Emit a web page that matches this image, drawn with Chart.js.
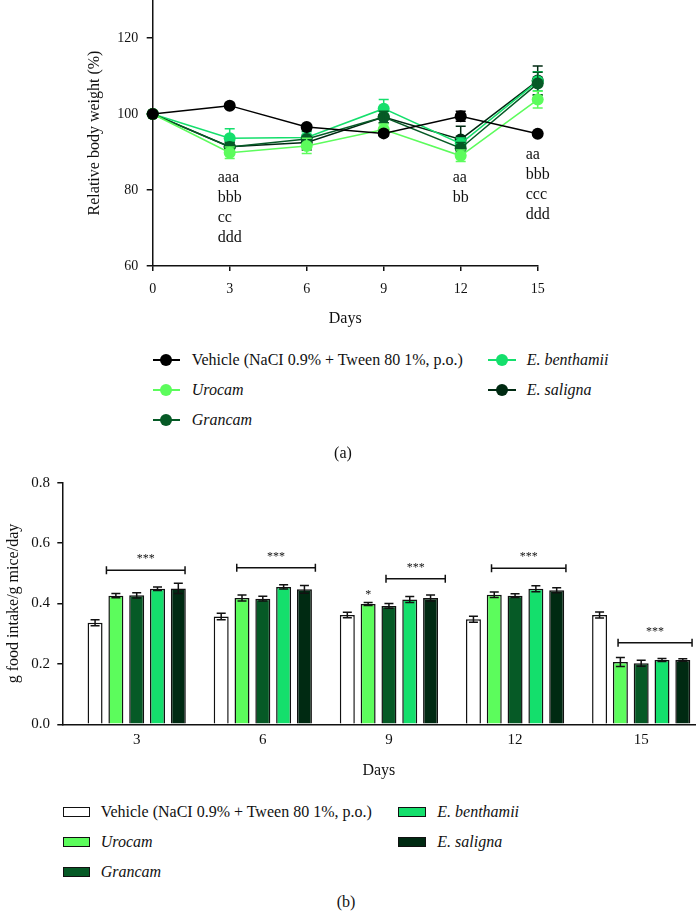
<!DOCTYPE html>
<html>
<head>
<meta charset="utf-8">
<title>Body weight and food intake</title>
<script src="https://cdn.jsdelivr.net/npm/chart.js@4.4.1/dist/chart.umd.min.js"></script>
<style>
  html, body { margin: 0; padding: 0; background: #fff; }
  #page {
    position: relative; width: 696px; height: 911px; overflow: hidden;
    font-family: 'Liberation Serif', 'DejaVu Serif', serif; color: #111;
  }
  #page canvas { position: absolute; left: 0; }
  .lg-text { position: absolute; font-size: 16px; line-height: 20px; white-space: nowrap; }
  .lg-line { position: absolute; height: 1.5px; }
  .lg-dot { position: absolute; width: 12px; height: 12px; border-radius: 50%; }
  .lg-box { position: absolute; box-sizing: border-box; border: 1.5px solid #111; }
  .caption { position: absolute; width: 60px; text-align: center; font-size: 16px; line-height: 20px; }
</style>
</head>
<body>
<div id="page">
  <canvas id="weightChart" width="696" height="330" style="top:0"></canvas>
  <canvas id="intakeChart" width="696" height="320" style="top:460px"></canvas>
  <div class="caption" style="left:313px;top:443px">(a)</div>
  <div class="caption" style="left:316px;top:892px">(b)</div>
</div>
<script>
// ---- shared series info ----
const seriesNames = ['Vehicle (NaCI 0.9% + Tween 80 1%, p.o.)', 'Urocam', 'Grancam', 'E. benthamii', 'E. saligna'];
const seriesItalic = [false, true, true, true, true];
const seriesColors = ['#000000', '#5cfc5c', '#065a26', '#14df6c', '#002a12'];
const barFills = ['#ffffff', '#5cfc5c', '#065a26', '#14df6c', '#002a12'];

// ---- (a) relative body weight ----
const weightDays = [0, 3, 6, 9, 12, 15];
const weightTicks = [60, 80, 100, 120];
const weightVehicle = [100, 102.2, 96.6, 94.9, 99.4, 94.8];
const weightUrocam = [100, 89.8, 91.6, 95.9, 89.0, 103.8];
const weightGrancam = [100, 91.3, 93.4, 99.2, 91.0, 108.0];
const weightBenthamii = [100, 93.6, 93.8, 101.4, 92.2, 108.6];
const weightSaligna = [100, 91.4, 92.5, 99.2, 93.3, 108.8];
const weightErrVehicle = [0, 0.6, 0.6, 0.6, 1.3, 0.5];
const weightErrUrocam = [0, 1.5, 2.0, 1.5, 1.5, 2.2];
const weightErrGrancam = [0, 1.2, 2.2, 1.5, 1.5, 3.0];
const weightErrBenthamii = [0, 2.5, 1.5, 2.4, 1.5, 2.5];
const weightErrSaligna = [0, 1.2, 2.0, 1.5, 3.5, 3.8];

const noteDays = [3, 12, 15];
const noteTopValues = [83.2, 83.2, 89.2];
const noteLines = [['aaa', 'bbb', 'cc', 'ddd'], ['aa', 'bb'], ['aa', 'bbb', 'ccc', 'ddd']];

// ---- (b) food intake ----
const intakeDays = [3, 6, 9, 12, 15];
const intakeTicks = [0, 0.2, 0.4, 0.6, 0.8];
const intakeVehicle = [0.336, 0.357, 0.362, 0.348, 0.362];
const intakeUrocam = [0.426, 0.418, 0.398, 0.429, 0.206];
const intakeGrancam = [0.427, 0.416, 0.392, 0.426, 0.202];
const intakeBenthamii = [0.449, 0.455, 0.413, 0.449, 0.213];
const intakeSaligna = [0.450, 0.447, 0.418, 0.444, 0.213];
const intakeErrVehicle = [0.010, 0.011, 0.009, 0.010, 0.010];
const intakeErrUrocam = [0.007, 0.010, 0.005, 0.009, 0.015];
const intakeErrGrancam = [0.009, 0.008, 0.008, 0.006, 0.010];
const intakeErrBenthamii = [0.006, 0.007, 0.010, 0.010, 0.005];
const intakeErrSaligna = [0.017, 0.013, 0.010, 0.008, 0.004];

// significance brackets, in axis units (days / g per g per day)
const bracketFrom = [2.28, 5.38, 8.93, 11.44, 14.45];
const bracketTo = [4.15, 7.25, 10.34, 13.21, 16.21];
const bracketLevel = [0.510, 0.518, 0.482, 0.517, 0.270];
const bracketLabel = ['***', '***', '***', '***', '***'];
// single star over Urocam, day 9
const starSeries = [1];
const starIndex = [2];

const FONT = "'Liberation Serif', 'DejaVu Serif', serif";

const errorBarPlugin = {
  id: 'errorBars',
  afterDatasetDraw(chart, args) {
    const ds = chart.data.datasets[args.index];
    if (!ds.errors) return;
    const yScale = chart.scales.y;
    const ctx = chart.ctx;
    const cap = ds.errorCap || 4.5;
    ctx.save();
    ctx.strokeStyle = ds.errorColor;
    ctx.lineWidth = 1.5;
    args.meta.data.forEach((el, i) => {
      const err = ds.errors[i];
      if (!err) return;
      const raw = ds.data[i];
      const v = typeof raw === 'object' ? raw.y : raw;
      const top = yScale.getPixelForValue(v + err);
      const bottom = yScale.getPixelForValue(v - err);
      ctx.beginPath();
      ctx.moveTo(el.x, top);
      ctx.lineTo(el.x, bottom);
      ctx.moveTo(el.x - cap, top);
      ctx.lineTo(el.x + cap, top);
      ctx.moveTo(el.x - cap, bottom);
      ctx.lineTo(el.x + cap, bottom);
      ctx.stroke();
    });
    ctx.restore();
  }
};

const weightNotesPlugin = {
  id: 'weightNotes',
  afterDraw(chart) {
    const ctx = chart.ctx;
    const x = chart.scales.x;
    const y = chart.scales.y;
    ctx.save();
    ctx.font = '16px ' + FONT;
    ctx.fillStyle = '#111';
    ctx.textBaseline = 'middle';
    ctx.textAlign = 'left';
    noteDays.forEach((day, n) => {
      const lines = noteLines[n];
      const w = Math.max(...lines.map(t => ctx.measureText(t).width));
      const left = x.getPixelForValue(day) - w / 2;
      const top = y.getPixelForValue(noteTopValues[n]);
      lines.forEach((t, k) => ctx.fillText(t, left, top + k * 20));
    });
    ctx.restore();
  }
};

const bracketPlugin = {
  id: 'brackets',
  afterDraw(chart) {
    const ctx = chart.ctx;
    const x = chart.scales.x;
    const y = chart.scales.y;
    ctx.save();
    ctx.strokeStyle = '#111';
    ctx.fillStyle = '#111';
    ctx.lineWidth = 1.5;
    ctx.font = '12px ' + FONT;
    ctx.textAlign = 'center';
    ctx.textBaseline = 'middle';
    bracketFrom.forEach((from, n) => {
      const x1 = x.getPixelForValue(from);
      const x2 = x.getPixelForValue(bracketTo[n]);
      const yy = y.getPixelForValue(bracketLevel[n]);
      ctx.beginPath();
      ctx.moveTo(x1, yy);
      ctx.lineTo(x2, yy);
      ctx.moveTo(x1, yy - 4);
      ctx.lineTo(x1, yy + 4);
      ctx.moveTo(x2, yy - 4);
      ctx.lineTo(x2, yy + 4);
      ctx.stroke();
      ctx.fillText(bracketLabel[n], (x1 + x2) / 2, yy - 11);
    });
    starSeries.forEach((s, n) => {
      const el = chart.getDatasetMeta(s).data[starIndex[n]];
      const ds = chart.data.datasets[s];
      const v = ds.data[starIndex[n]].y + ds.errors[starIndex[n]];
      ctx.fillText('*', el.x, y.getPixelForValue(v) - 8);
    });
    ctx.restore();
  }
};

function lineDataset(i, values, errors) {
  return {
    label: seriesNames[i],
    data: weightDays.map((d, k) => ({ x: d, y: values[k] })),
    borderColor: seriesColors[i],
    backgroundColor: seriesColors[i],
    pointBackgroundColor: seriesColors[i],
    pointBorderColor: seriesColors[i],
    pointRadius: 6,
    pointBorderWidth: 0,
    borderWidth: 1.5,
    tension: 0,
    clip: false,
    errors: errors,
    errorColor: seriesColors[i],
    errorCap: 5
  };
}

function barDataset(i, values, errors) {
  return {
    label: seriesNames[i],
    data: intakeDays.map((d, k) => ({ x: d, y: values[k] })),
    backgroundColor: barFills[i],
    borderColor: '#111',
    borderWidth: 1.5,
    borderSkipped: 'bottom',
    categoryPercentage: 0.825,
    barPercentage: 0.72,
    errors: errors,
    errorColor: '#111',
    errorCap: 4.5
  };
}

function axisStyle(extra) {
  return Object.assign({
    border: { display: true, color: '#111', width: 1.5 },
    grid: { display: true, drawOnChartArea: false, drawTicks: true, color: '#111', lineWidth: 1.5 }
  }, extra);
}

function buildWeightChart() {
  const canvas = document.getElementById('weightChart');
  return new Chart(canvas.getContext('2d'), {
    type: 'line',
    data: {
      datasets: [
        lineDataset(0, weightVehicle, weightErrVehicle),
        lineDataset(1, weightUrocam, weightErrUrocam),
        lineDataset(2, weightGrancam, weightErrGrancam),
        lineDataset(3, weightBenthamii, weightErrBenthamii),
        lineDataset(4, weightSaligna, weightErrSaligna)
      ]
    },
    options: {
      responsive: false,
      animation: false,
      devicePixelRatio: 1,
      layout: { autoPadding: false, padding: { left: 0, right: 158.3, top: 0, bottom: 0 } },
      plugins: { legend: { display: false }, tooltip: { enabled: false } },
      scales: {
        x: axisStyle({
          type: 'linear',
          min: 0,
          max: 15,
          grid: { display: true, drawOnChartArea: false, drawTicks: true, tickLength: 5, color: '#111', lineWidth: 1.5 },
          afterBuildTicks: s => { s.ticks = weightDays.map(v => ({ value: v })); },
          afterFit: s => { s.height = 64; s.paddingLeft = 0; s.paddingRight = 0; },
          ticks: { color: '#111', padding: 9.6, font: { family: FONT, size: 14 }, callback: v => String(v) },
          title: { display: true, text: 'Days', color: '#111', font: { family: FONT, size: 16 }, padding: { top: 0, bottom: 1.4 } }
        }),
        y: axisStyle({
          min: 60,
          max: 130,
          grid: { display: true, drawOnChartArea: false, drawTicks: true, tickLength: 6, color: '#111', lineWidth: 1.5 },
          afterBuildTicks: s => { s.ticks = weightTicks.map(v => ({ value: v })); },
          afterFit: s => { s.width = 152.7; s.paddingTop = 0; s.paddingBottom = 0; },
          ticks: { color: '#111', padding: 8.4, font: { family: FONT, size: 14 }, callback: v => String(v) },
          title: { display: true, text: 'Relative body weight (%)', color: '#111', font: { family: FONT, size: 16 }, padding: { top: 85.4, bottom: 0 } }
        })
      }
    },
    plugins: [errorBarPlugin, weightNotesPlugin]
  });
}

function buildIntakeChart() {
  const canvas = document.getElementById('intakeChart');
  return new Chart(canvas.getContext('2d'), {
    type: 'bar',
    data: {
      datasets: [
        barDataset(0, intakeVehicle, intakeErrVehicle),
        barDataset(1, intakeUrocam, intakeErrUrocam),
        barDataset(2, intakeGrancam, intakeErrGrancam),
        barDataset(3, intakeBenthamii, intakeErrBenthamii),
        barDataset(4, intakeSaligna, intakeErrSaligna)
      ]
    },
    options: {
      responsive: false,
      animation: false,
      devicePixelRatio: 1,
      layout: { autoPadding: false, padding: { left: 0, right: 1, top: 22.7, bottom: 0 } },
      plugins: { legend: { display: false }, tooltip: { enabled: false } },
      scales: {
        x: axisStyle({
          type: 'linear',
          offset: false,
          min: 1.24,
          max: 16.28,
          grid: { display: false, drawTicks: false, offset: false },
          afterBuildTicks: s => { s.ticks = intakeDays.map(v => ({ value: v })); },
          afterFit: s => { s.height = 55.7; s.paddingLeft = 0; s.paddingRight = 0; },
          ticks: { color: '#111', padding: 6.7, font: { family: FONT, size: 15 }, callback: v => String(v) },
          title: { display: true, text: 'Days', color: '#111', font: { family: FONT, size: 16 }, padding: { top: 0, bottom: 0 } }
        }),
        y: axisStyle({
          min: 0,
          max: 0.8,
          grid: { display: true, drawOnChartArea: false, drawTicks: true, tickLength: 5.4, color: '#111', lineWidth: 1.5 },
          afterBuildTicks: s => { s.ticks = intakeTicks.map(v => ({ value: v })); },
          afterFit: s => { s.width = 62.7; s.paddingTop = 0; s.paddingBottom = 0; },
          ticks: { color: '#111', padding: 7.3, font: { family: FONT, size: 15 }, callback: v => Number(v).toFixed(1) },
          title: { display: true, text: 'g food intake/g mice/day', color: '#111', font: { family: FONT, size: 16 }, padding: { top: 3.7, bottom: 0 } }
        })
      }
    },
    plugins: [errorBarPlugin, bracketPlugin]
  });
}

// ---- HTML legends ----
const legendCol = [0, 0, 0, 1, 1];
const legendRow = [0, 1, 2, 0, 1];

function addText(page, i, left, centerY) {
  const t = document.createElement('div');
  t.className = 'lg-text';
  t.textContent = seriesNames[i];
  t.style.left = left + 'px';
  t.style.top = (centerY - 10) + 'px';
  if (seriesItalic[i]) t.style.fontStyle = 'italic';
  page.appendChild(t);
}

function buildLegends() {
  const page = document.getElementById('page');
  // (a) line + dot markers
  const aMarkX = [152.7, 488.3];
  const aTextX = [191.7, 526.7];
  const aRowY = [360, 390, 420];
  seriesNames.forEach((name, i) => {
    const cx = aMarkX[legendCol[i]];
    const cy = aRowY[legendRow[i]];
    const line = document.createElement('div');
    line.className = 'lg-line';
    line.style.cssText = `left:${cx}px;top:${cy - 0.75}px;width:27.5px;background:${seriesColors[i]}`;
    page.appendChild(line);
    const dot = document.createElement('div');
    dot.className = 'lg-dot';
    dot.style.cssText = `left:${cx + 13.75 - 6}px;top:${cy - 6}px;background:${seriesColors[i]}`;
    page.appendChild(dot);
    addText(page, i, aTextX[legendCol[i]], cy);
  });
  // (b) box markers
  const bBoxX = [62.7, 398.3];
  const bTextX = [100.7, 437.3];
  const bRowY = [811.7, 842, 871.7];
  seriesNames.forEach((name, i) => {
    const bx = bBoxX[legendCol[i]];
    const cy = bRowY[legendRow[i]];
    const box = document.createElement('div');
    box.className = 'lg-box';
    box.style.cssText = `left:${bx}px;top:${cy - 5}px;width:27.5px;height:10px;background:${barFills[i]}`;
    page.appendChild(box);
    addText(page, i, bTextX[legendCol[i]], cy);
  });
}

document.addEventListener('DOMContentLoaded', () => {
  buildWeightChart();
  buildIntakeChart();
  buildLegends();
});
</script>
</body>
</html>
